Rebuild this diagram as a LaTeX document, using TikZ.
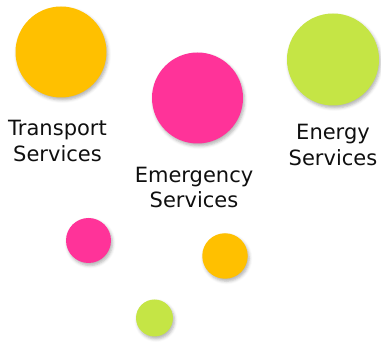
\documentclass[tikz,border=0pt]{standalone}
\usepackage{fontspec}
\setmainfont{DejaVu Sans}
\usetikzlibrary{shadows.blur}

\definecolor{servorange}{RGB}{255,192,0}
\definecolor{servpink}{RGB}{255,51,153}
\definecolor{servgreen}{RGB}{197,229,69}
\definecolor{servtext}{RGB}{15,15,15}

\tikzset{
  dot/.style={circle,fill=#1,draw=none,inner sep=0pt,
    blur shadow={shadow xshift=1.5pt,shadow yshift=-2.5pt,
      shadow blur radius=3pt,shadow opacity=30}},
  label/.style={align=center,anchor=north,inner sep=0pt,text=servtext,
    font=\fontsize{21}{25.5}\selectfont}
}

\begin{document}
\begin{tikzpicture}[x=1pt,y=1pt]
\useasboundingbox (0,0) rectangle (381,342);

\node[dot=servorange,minimum size=91pt] (transport) at (61, 290) {};
\node[dot=servpink,minimum size=91pt] (emergency) at (197.5, 244) {};
\node[dot=servgreen,minimum size=92pt] (energy) at (333, 282.5) {};

\node[dot=servpink,minimum size=45pt] (pinkdot) at (88.5, 101.5) {};
\node[dot=servorange,minimum size=45.5pt] (orangedot) at (225, 86) {};
\node[dot=servgreen,minimum size=37pt] (greendot) at (154.5, 24) {};

\node[label] (transportlabel) at (57.5, 222) {Transport\\Services};
\node[label] (emergencylabel) at (194, 175.5) {Emergency\\Services};
\node[label] (energylabel) at (333, 218) {Energy\\Services};

\end{tikzpicture}
\end{document}
